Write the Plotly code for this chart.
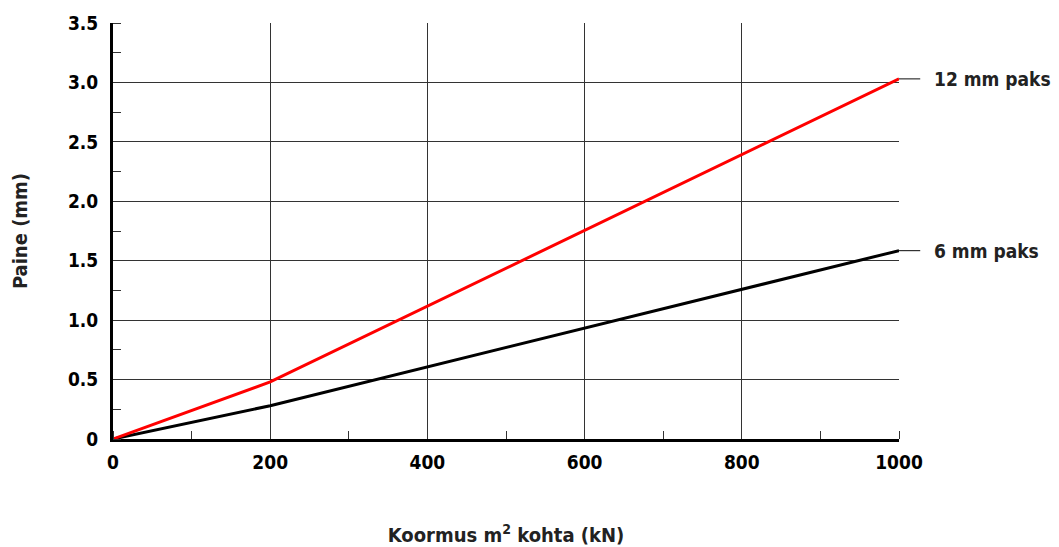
import plotly.graph_objects as go

loads = [0, 200, 1000]
paks_12mm = [0, 0.48, 3.03]
paks_6mm = [0, 0.28, 1.585]
series_names = ["12 mm paks", "6 mm paks"]
x_ticks = [0, 200, 400, 600, 800, 1000]
y_ticks = [0, 0.5, 1.0, 1.5, 2.0, 2.5, 3.0, 3.5]
y_labels = ["0", "0.5", "1.0", "1.5", "2.0", "2.5", "3.0", "3.5"]

FONT = "DejaVu Sans Condensed, Liberation Sans Narrow, Arial Narrow, sans-serif"

fig = go.Figure()
fig.add_trace(go.Scatter(x=loads, y=paks_6mm, mode="lines", line=dict(color="black", width=3),
                         cliponaxis=False, showlegend=False, name=series_names[1]))
fig.add_trace(go.Scatter(x=loads, y=paks_12mm, mode="lines", line=dict(color="#ff0000", width=3),
                         cliponaxis=False, showlegend=False, name=series_names[0]))

for vals, name in [(paks_12mm, series_names[0]), (paks_6mm, series_names[1])]:
    fig.add_shape(type="line", xref="paper", yref="y", x0=1.0, x1=1.027, y0=vals[-1], y1=vals[-1],
                  line=dict(color="#333333", width=1.2))
    fig.add_annotation(xref="paper", yref="y", x=1.042, y=vals[-1], text="<b>" + name + "</b>",
                       showarrow=False, xanchor="left", yanchor="middle",
                       font=dict(family=FONT, size=19, color="#222222"))

fig.update_layout(
    width=1051, height=539,
    margin=dict(l=105, r=160, t=15, b=108),
    paper_bgcolor="white", plot_bgcolor="white",
    font=dict(family=FONT, size=18, color="black"),
    xaxis=dict(range=[0, 1000], tickvals=x_ticks, ticktext=["<b>%d</b>" % v for v in x_ticks],
               automargin=False,
               showgrid=True, gridcolor="#333333", gridwidth=1,
               showline=True, linecolor="black", linewidth=3, zeroline=False,
               ticks="", ticklabelstandoff=4, tickfont=dict(family=FONT, size=19, color="black"),
               minor=dict(dtick=100, tick0=0, ticks="inside", ticklen=8, tickcolor="#333333",
                          tickwidth=1, showgrid=False),
               title=dict(text="<b>Koormus m<sup>2</sup> kohta (kN)</b>", standoff=60,
                          font=dict(family=FONT, size=20, color="#222222"))),
    yaxis=dict(range=[0, 3.5], tickvals=y_ticks, ticktext=["<b>%s</b>" % t for t in y_labels],
               automargin=False,
               showgrid=True, gridcolor="#333333", gridwidth=1,
               showline=True, linecolor="black", linewidth=3, zeroline=False,
               ticks="", ticklabelstandoff=8, tickfont=dict(family=FONT, size=19, color="black"),
               minor=dict(dtick=0.25, tick0=0, ticks="inside", ticklen=8, tickcolor="#333333",
                          tickwidth=1, showgrid=False),
               title=dict(text="<b>Paine (mm)</b>", standoff=37,
                          font=dict(family=FONT, size=20, color="#222222"))),
)

fig.write_html("out.html")
